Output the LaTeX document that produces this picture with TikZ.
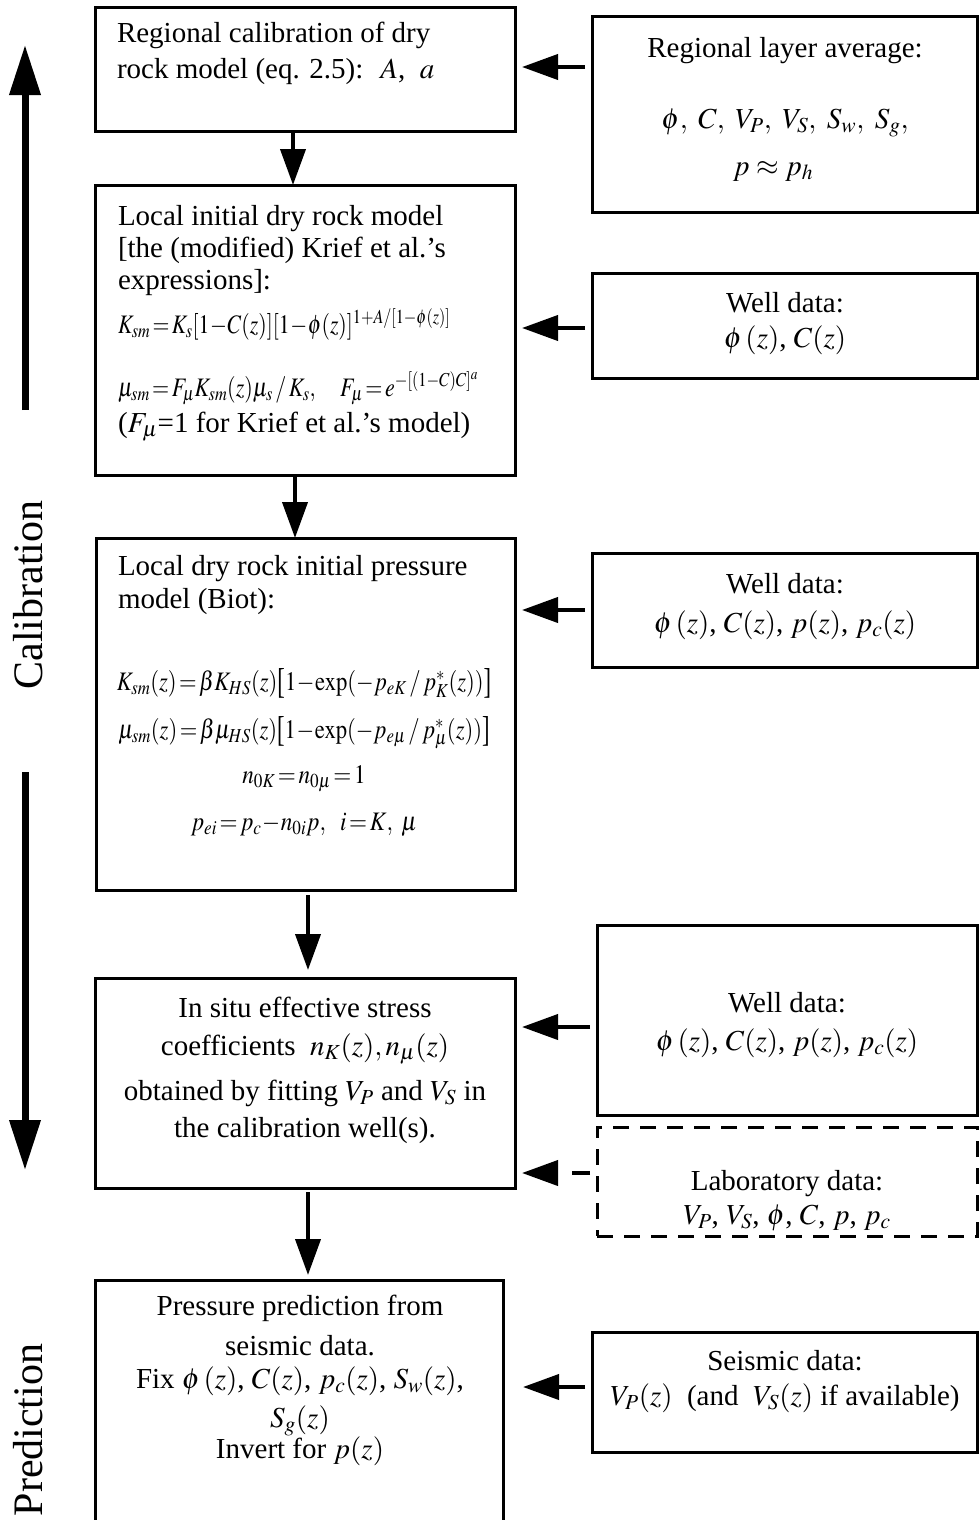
\documentclass[tikz,border=0pt]{standalone}
\usepackage{graphicx}
\usepackage{mathptmx}
\usepackage{fontspec}
\setmainfont{Liberation Serif}
\usetikzlibrary{arrows.meta,calc}
\newcommand{\tallL}{\raisebox{-3.5pt}{\scalebox{1}[1.35]{\normalfont[}}}
\newcommand{\tallR}{\raisebox{-3.5pt}{\scalebox{1}[1.35]{\normalfont]}}}
\begin{document}
\begin{tikzpicture}[x=1pt,y=-1pt,
  box/.style={draw,line width=3pt,inner sep=0,outer sep=0,anchor=north west},
  dbox/.style={draw,line width=3pt,dash pattern=on 16pt off 11pt,inner sep=0,outer sep=0,anchor=north west},
  txt/.style={inner sep=0,outer sep=0,font=\fontsize{29}{36}\selectfont},
  ctr/.style={txt,anchor=base},
  lft/.style={txt,anchor=base west},
  arr/.style={line width=4pt,-{Triangle[length=36pt,width=25pt]}},
  darr/.style={arr,dash pattern=on 18pt off 20pt},
  big/.style={line width=7pt,-{Triangle[length=50pt,width=30pt]}},
  side/.style={inner sep=0,outer sep=0,rotate=90,anchor=base,font=\fontsize{42}{50}\selectfont},
]
\useasboundingbox (0,0) rectangle (979,1520);
\clip (0,0) rectangle (979,1520);

% ---- boxes
\node[box,minimum width=420pt,minimum height=123pt] (b1) at (95,8) {};
\node[box,minimum width=385pt,minimum height=195pt] (r1) at (592,17) {};
\node[box,minimum width=420pt,minimum height=290pt] (b2) at (95,185) {};
\node[box,minimum width=385pt,minimum height=105pt] (r2) at (592,273) {};
\node[box,minimum width=419pt,minimum height=352pt] (b3) at (96,538) {};
\node[box,minimum width=385pt,minimum height=114pt] (r3) at (592,553) {};
\node[box,minimum width=420pt,minimum height=210pt] (b4) at (95,978) {};
\node[box,minimum width=380pt,minimum height=190pt] (r4) at (597,925) {};
\node[dbox,minimum width=380pt,minimum height=109pt] (r5) at (597,1127) {};
\node[box,minimum width=408pt,minimum height=260pt] (b5) at (95,1280) {};
\node[box,minimum width=385pt,minimum height=120pt] (r6) at (592,1332) {};

% ---- texts
\node[txt,anchor=north west,align=left,font=\fontsize{29}{36}\selectfont] (t1) at (117,22)
  {Regional calibration of dry\\rock model (eq. 2.5): \ $A$, \ $a$};

\node[ctr] (t1r) at (785,57) {Regional layer average:};
\node[ctr] (f1r) at (785,128) {$\phi,\ C,\ V_P,\ V_S,\ S_w,\ S_g,$};
\node[ctr] (g1r) at (773,175) {$p\approx p_h$};

\node[txt,anchor=north west,align=left,font=\fontsize{29}{32}\selectfont] (t2) at (118,205)
  {Local initial dry rock model\\{[}the (modified) Krief et al.'s\\expressions]:};
\node[lft] (f2a) at (118,333) {\scalebox{0.75}[0.92]{$K_{sm}\!=\!K_s[1\!-\!C(z)][1\!-\!\phi(z)]^{1+A/[1-\phi(z)]}$}};
\node[lft] (f2b) at (118,396) {\scalebox{0.76}[0.92]{$\mu_{sm}\!=\!F_\mu K_{sm}(z)\mu_s\,/\,K_s,\quad F_\mu\!=\!e^{-[(1-C)C]^a}$}};
\node[lft] (t2c) at (118,432) {($F_\mu$=1 for Krief et al.'s model)};

\node[ctr] (t2r) at (785,312) {Well data:};
\node[ctr] (f2r) at (785,347) {$\phi\,(z)$, $C(z)$};

\node[txt,anchor=north west,align=left,font=\fontsize{29}{33}\selectfont] (t3) at (118,555)
  {Local dry rock initial pressure\\model (Biot):};
\node[ctr] (f3a) at (304,690) {\scalebox{0.78}[0.92]{$K_{sm}(z)\!=\!\beta K_{HS}(z)\tallL 1\!-\!\exp(-p_{eK}\,/\,p_K^*(z))\tallR$}};
\node[ctr] (f3b) at (304,738) {\scalebox{0.78}[0.92]{$\mu_{sm}(z)\!=\!\beta\mu_{HS}(z)\tallL 1\!-\!\exp(-p_{e\mu}\,/\,p_\mu^*(z))\tallR$}};
\node[ctr] (f3c) at (304,783) {\scalebox{0.8}[0.92]{$n_{0K}\!=\!n_{0\mu}\!=\!1$}};
\node[ctr] (f3d) at (304,830) {\scalebox{0.8}[0.92]{$p_{ei}\!=\!p_c\!-\!n_{0i}p,\ \ i\!=\!K,\ \mu$}};

\node[ctr] (t3r) at (785,593) {Well data:};
\node[ctr] (f3r) at (785,632) {$\phi\,(z)$, $C(z)$, $p(z)$, $p_c(z)$};

\node[ctr] (t4a) at (305,1017) {In situ effective stress};
\node[ctr] (t4b) at (305,1055) {coefficients \ $n_K(z), n_\mu(z)$};
\node[ctr] (t4c) at (305,1100) {obtained by fitting $V_P$ and $V_S$ in};
\node[ctr] (t4d) at (305,1137) {the calibration well(s).};

\node[ctr] (t4r) at (787,1012) {Well data:};
\node[ctr] (f4r) at (787,1050) {$\phi\,(z)$, $C(z)$, $p(z)$, $p_c(z)$};
\node[ctr] (t5r) at (787,1190) {Laboratory data:};
\node[ctr] (f5r) at (787,1224) {$V_P$, $V_S$, $\phi$, $C$, $p$, $p_c$};

\node[ctr] (t5a) at (300,1315) {Pressure prediction from};
\node[ctr] (t5b) at (300,1355) {seismic data.};
\node[ctr] (t5c) at (300,1388) {Fix $\phi\,(z)$, $C(z)$, $p_c(z)$, $S_w(z)$,};
\node[ctr] (t5d) at (300,1427) {$S_g(z)$};
\node[ctr] (t5e) at (300,1458) {Invert for $p(z)$};

\node[ctr] (t6r) at (785,1370) {Seismic data:};
\node[ctr] (f6r) at (785,1405) {$V_P(z)$\ \ (and \ $V_S(z)$ if available)};

% ---- side labels and arrows
\node[side] (cal) at (42,595) {Calibration};
\node[side] (pred) at (42,1430) {Prediction};
\coordinate (u0) at (25,410);
\coordinate (u1) at (25,45);
\coordinate (d0) at (25,772);
\coordinate (d1) at (25,1170);
\draw[big] (u0) -- (u1);
\draw[big] (d0) -- (d1);

% ---- vertical connectors
\coordinate (v1) at (293,0);
\coordinate (v2) at (295,0);
\coordinate (v3) at (308,0);
\draw[arr] (b1.south -| v1) -- (b2.north -| v1);
\draw[arr] (b2.south -| v2) -- (b3.north -| v2);
\draw[arr,shorten <=5pt,shorten >=8pt] (b3.south -| v3) -- (b4.north -| v3);
\draw[arr,shorten <=4pt,shorten >=5pt] (b4.south -| v3) -- (b5.north -| v3);

% ---- horizontal connectors
\coordinate (h1) at (0,67);
\coordinate (h2) at (0,328);
\coordinate (h3) at (0,610);
\coordinate (h4) at (0,1027);
\coordinate (h5) at (0,1173);
\coordinate (h6) at (0,1387);
\draw[arr,shorten <=7pt,shorten >=7pt] (r1.west |- h1) -- (b1.east |- h1);
\draw[arr,shorten <=7pt,shorten >=7pt] (r2.west |- h2) -- (b2.east |- h2);
\draw[arr,shorten <=7pt,shorten >=7pt] (r3.west |- h3) -- (b3.east |- h3);
\draw[arr,shorten <=7pt,shorten >=7pt] (r4.west |- h4) -- (b4.east |- h4);
\draw[darr,shorten <=7pt,shorten >=7pt] (r5.west |- h5) -- (b4.east |- h5);
\draw[arr,shorten <=7pt,shorten >=20pt] (r6.west |- h6) -- (b5.east |- h6);
\end{tikzpicture}
\end{document}
